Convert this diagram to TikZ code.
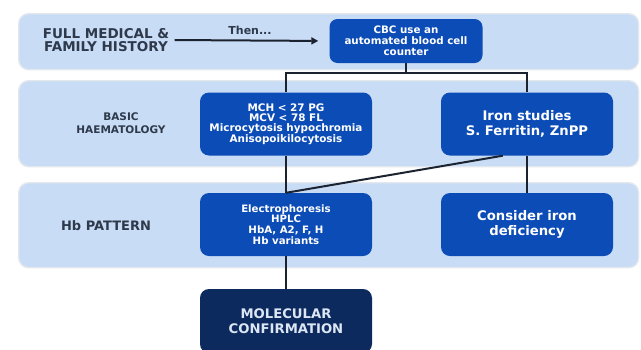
\documentclass[tikz,border=0pt]{standalone}
\usepackage{fontspec}
\setmainfont{DejaVu Sans}
\usetikzlibrary{arrows.meta}
\definecolor{bandfill}{HTML}{C9DCF5}
\definecolor{bandline}{HTML}{E3E8EE}
\definecolor{boxblue}{HTML}{0B4CB6}
\definecolor{navy}{HTML}{0C2A5E}
\definecolor{labelc}{HTML}{2E3A4C}
\definecolor{connc}{HTML}{1C2330}
\definecolor{moltext}{HTML}{DCE6F5}
\tikzset{
  band/.style={rectangle, rounded corners=10pt, fill=bandfill, draw=bandline, line width=1.4pt, anchor=north west, inner sep=0pt, minimum width=620pt},
  bluebox/.style={rectangle, rounded corners=9pt, fill=boxblue, text=white, font=\bfseries, align=center, inner sep=0pt, minimum width=172pt, minimum height=63pt},
  lbl/.style={text=labelc, align=center},
  conn/.style={draw=connc, line width=2pt},
}
\begin{document}
\begin{tikzpicture}[x=1pt,y=-1pt]
\useasboundingbox (0,0) rectangle (641,349);
\clip (0,0) rectangle (641,349);
\fill[white] (0,0) rectangle (641,349);
% bands
\node[band, minimum height=56pt] (b1) at (18,13) {};
\node[band, minimum height=86pt] (b2) at (18,80) {};
\node[band, minimum height=85pt] (b3) at (18,182) {};
% labels
\node[lbl, font=\bfseries\fontsize{13.5}{13}\selectfont] (hist) at (106,40) {FULL MEDICAL \&\\FAMILY HISTORY};
\node[lbl, font=\bfseries\fontsize{10.5}{13}\selectfont] (basic) at (121,123) {BASIC\\HAEMATOLOGY};
\node[lbl, font=\bfseries\fontsize{13}{13}\selectfont] (hbp) at (106,226) {Hb PATTERN};
% boxes
\node[bluebox, minimum width=153pt, minimum height=44pt, rounded corners=8pt, font=\bfseries\fontsize{10.3}{11}\selectfont] (cbc) at (406,41) {CBC use an\\automated blood cell\\counter};
\node[bluebox, font=\bfseries\fontsize{10.4}{10}\selectfont] (mch) at (286,124) {MCH {\textless} 27 PG\\MCV {\textless} 78 FL\\Microcytosis hypochromia\\Anisopoikilocytosis};
\node[bluebox, font=\bfseries\fontsize{13.2}{15}\selectfont] (iron) at (527,124) {Iron studies\\S. Ferritin, ZnPP};
\node[bluebox, font=\bfseries\fontsize{10.2}{10.7}\selectfont] (elec) at (286,224.5) {Electrophoresis\\HPLC\\HbA, A2, F, H\\Hb variants};
\node[bluebox, font=\bfseries\fontsize{13.2}{15}\selectfont] (cons) at (527,224.5) {Consider iron\\deficiency};
\node[bluebox, fill=navy, text=moltext, minimum height=64pt, font=\bfseries\fontsize{13.2}{15}\selectfont] (mol) at (286,321) {MOLECULAR\\CONFIRMATION};
% connectors
\node[text=labelc, font=\bfseries\fontsize{11}{11}\selectfont] (then) at (250,30) {Then...};
\draw[conn, -{Triangle[length=7pt,width=7pt]}, shorten <=2pt, shorten >=11pt] (hist.east) -- (cbc.west);
\coordinate (jl) at (286,73);
\coordinate (jr) at (527,73);
\draw[conn] (cbc.south) -- (cbc.south |- jl);
\draw[conn] (mch.north) -- (jl) -- (jr) -- (iron.north);
\draw[conn] (mch.south) -- (elec.north);
\draw[conn] ([xshift=62pt]iron.south west) -- (elec.north);
\draw[conn] (iron.south) -- (cons.north);
\draw[conn] (elec.south) -- (mol.north);
\end{tikzpicture}
\end{document}
